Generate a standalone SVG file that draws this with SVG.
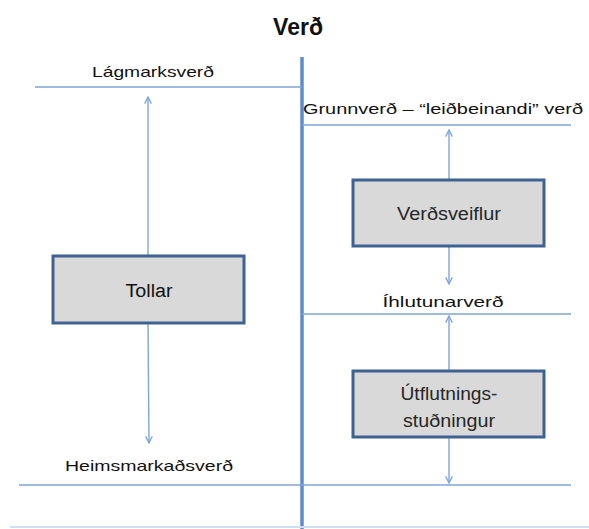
<svg xmlns="http://www.w3.org/2000/svg" width="589" height="529" viewBox="0 0 589 529">
<defs>
<style>
.lbl{font-family:"Liberation Sans","DejaVu Sans",sans-serif;font-size:15px;fill:#111;text-anchor:middle}
.box{fill:#d9d9d9;stroke:#3e6291;stroke-width:3}
.btxt{font-family:"Liberation Sans","DejaVu Sans",sans-serif;font-size:18px;fill:#262626;text-anchor:middle}
.hl{stroke:#7ea5dc;stroke-width:1.6;fill:none}
.ar{stroke:#7ea5dc;stroke-width:1.4;fill:none}
</style>
<marker id="ah" viewBox="0 0 12 12" refX="11" refY="6" markerWidth="8" markerHeight="8" markerUnits="userSpaceOnUse" orient="auto">
<path d="M1,1 L11,6 L1,11" fill="none" stroke="#7ea5dc" stroke-width="2"/>
</marker>
</defs>
<rect width="589" height="529" fill="#ffffff"/>
<text x="298" y="35" style="font-family:'Liberation Sans','DejaVu Sans',sans-serif;font-size:23px;font-weight:bold;fill:#111" text-anchor="middle">Verð</text>
<g id="axes">
<line x1="302" y1="57" x2="302" y2="529" stroke="#5b8cd2" stroke-width="3.5"/>
<line class="hl" x1="35" y1="87" x2="302" y2="87"/>
<line class="hl" x1="302" y1="125" x2="571" y2="125"/>
<line class="hl" x1="302" y1="314" x2="571" y2="314"/>
<line class="hl" x1="19" y1="485" x2="571" y2="485"/>
<line x1="10" y1="527" x2="589" y2="527" stroke="#cfdef2" stroke-width="2"/>
</g>
<g id="labels">
<text class="lbl" x="153" y="77" textLength="122" lengthAdjust="spacingAndGlyphs">Lágmarksverð</text>
<text class="lbl" x="443" y="114" textLength="280" lengthAdjust="spacingAndGlyphs">Grunnverð – “leiðbeinandi” verð</text>
<text class="lbl" x="443" y="307" textLength="121" lengthAdjust="spacingAndGlyphs">Íhlutunarverð</text>
<text class="lbl" x="149" y="471" textLength="168" lengthAdjust="spacingAndGlyphs">Heimsmarkaðsverð</text>
</g>
<g id="connectors">
<line class="ar" x1="148" y1="256" x2="148" y2="97" marker-end="url(#ah)"/>
<line class="ar" x1="148" y1="324" x2="149" y2="443" marker-end="url(#ah)"/>
<line class="ar" x1="449" y1="180" x2="449" y2="130" marker-end="url(#ah)"/>
<line class="ar" x1="449" y1="247" x2="449" y2="284" marker-end="url(#ah)"/>
<line class="ar" x1="449" y1="371" x2="449" y2="316" marker-end="url(#ah)"/>
<line class="ar" x1="449" y1="438" x2="449" y2="483" marker-end="url(#ah)"/>
</g>
<g id="node-tollar">
<rect class="box" x="53" y="256" width="191" height="67"/>
<text class="btxt" x="149" y="297" style="fill:#111" textLength="47" lengthAdjust="spacingAndGlyphs">Tollar</text>
</g>
<g id="node-verdsveiflur">
<rect class="box" x="353" y="180" width="191" height="66"/>
<text class="btxt" x="449" y="220" textLength="104" lengthAdjust="spacingAndGlyphs">Verðsveiflur</text>
</g>
<g id="node-utflutningsstudningur">
<rect class="box" x="353" y="371" width="191" height="66"/>
<text class="btxt" x="449" y="400" textLength="97" lengthAdjust="spacingAndGlyphs">Útflutnings-</text>
<text class="btxt" x="449" y="427" textLength="92" lengthAdjust="spacingAndGlyphs">stuðningur</text>
</g>
</svg>
